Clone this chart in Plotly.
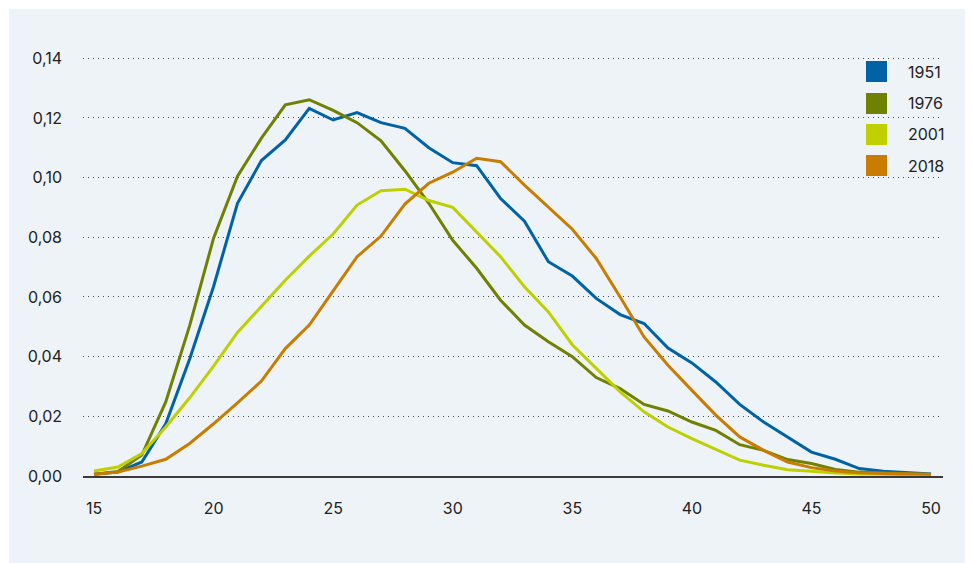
import plotly.graph_objects as go

ages = list(range(15, 51))

series_names = ["1951", "1976", "2001", "2018"]
series_colors = ["#0063a5", "#708000", "#bfd000", "#c87d00"]

y_1951 = [0.0006, 0.0013, 0.0047, 0.0175, 0.0392, 0.0635, 0.0914, 0.1057, 0.1126, 0.1232,
          0.1193, 0.1218, 0.1184, 0.1165, 0.1100, 0.1050, 0.1040, 0.0930, 0.0854, 0.0718,
          0.0670, 0.0595, 0.0541, 0.0511, 0.0429, 0.0379, 0.0315, 0.0240, 0.0181, 0.0131,
          0.0080, 0.0056, 0.0025, 0.0016, 0.0011, 0.0007]
y_1976 = [0.0006, 0.0015, 0.0070, 0.0248, 0.0504, 0.0797, 0.1005, 0.1132, 0.1244, 0.1261,
          0.1225, 0.1184, 0.1123, 0.1023, 0.0914, 0.0790, 0.0696, 0.0589, 0.0506, 0.0450,
          0.0400, 0.0330, 0.0293, 0.0240, 0.0218, 0.0181, 0.0153, 0.0105, 0.0086, 0.0055,
          0.0042, 0.0022, 0.0013, 0.0010, 0.0007, 0.0005]
y_2001 = [0.0017, 0.0030, 0.0075, 0.0164, 0.0262, 0.0368, 0.0481, 0.0570, 0.0656, 0.0737,
          0.0811, 0.0908, 0.0956, 0.0961, 0.0923, 0.0900, 0.0819, 0.0735, 0.0634, 0.0550,
          0.0440, 0.0362, 0.0282, 0.0215, 0.0164, 0.0125, 0.0089, 0.0053, 0.0036, 0.0021,
          0.0016, 0.0010, 0.0007, 0.0005, 0.0004, 0.0003]
y_2018 = [0.0006, 0.0013, 0.0033, 0.0056, 0.0109, 0.0175, 0.0245, 0.0318, 0.0427, 0.0506,
          0.0620, 0.0735, 0.0804, 0.0911, 0.0981, 0.1018, 0.1065, 0.1053, 0.0975, 0.0902,
          0.0827, 0.0729, 0.0600, 0.0466, 0.0371, 0.0287, 0.0204, 0.0131, 0.0086, 0.0047,
          0.0028, 0.0017, 0.0011, 0.0008, 0.0006, 0.0006]

x_ticks = [15, 20, 25, 30, 35, 40, 45, 50]
y_ticks = [0.00, 0.02, 0.04, 0.06, 0.08, 0.10, 0.12, 0.14]
y_tick_labels = ["0,00", "0,02", "0,04", "0,06", "0,08", "0,10", "0,12", "0,14"]

# page has an 8px body margin; figure sized to fit the window
OFF = 8
W, H = 973 - OFF, 563 - OFF
ML, MR, MT, MB = 83 - OFF, 30, 43 - OFF, 87
BG = "#eef3f7"
FONT = "Inter, Noto Sans, sans-serif"
TXT = "#222222"

def px_x(p):
    # p: pixel x in window coordinates
    return (p - OFF - ML) / (W - ML - MR)

def px_y(p):
    return (H - MB - (p - OFF)) / (H - MT - MB)

fig = go.Figure()
for name, col, ys in zip(series_names, series_colors, [y_1951, y_1976, y_2001, y_2018]):
    fig.add_trace(go.Scatter(x=ages, y=ys, mode="lines", name=name,
                             line=dict(color=col, width=3), showlegend=False))

shapes = [
    dict(type="rect", xref="paper", yref="paper", x0=px_x(9), x1=px_x(1000),
         y0=px_y(620), y1=px_y(9), fillcolor=BG, line=dict(width=0), layer="below"),
    dict(type="rect", xref="paper", yref="paper", x0=px_x(820), x1=px_x(1000),
         y0=px_y(205), y1=px_y(40), fillcolor=BG, line=dict(width=0), layer="between"),
]
annotations = []
box_tops = [61, 93, 124, 155]
for name, col, top in zip(series_names, series_colors, box_tops):
    shapes.append(dict(type="rect", xref="paper", yref="paper",
                       x0=px_x(866), x1=px_x(887), y0=px_y(top + 21), y1=px_y(top),
                       fillcolor=col, line=dict(width=0), layer="above"))
    annotations.append(dict(xref="paper", yref="paper", x=px_x(906), y=px_y(top + 10.5),
                            text=name, showarrow=False, xanchor="left", yanchor="middle",
                            font=dict(family=FONT, size=16, color=TXT)))

fig.update_layout(
    width=W, height=H,
    margin=dict(l=ML, r=MR, t=MT, b=MB, pad=0),
    paper_bgcolor="white", plot_bgcolor=BG,
    font=dict(family=FONT, size=16, color=TXT),
    shapes=shapes, annotations=annotations,
    showlegend=False,
)
fig.update_xaxes(range=[14.54, 50.50], tickvals=x_ticks, ticktext=[str(v) for v in x_ticks],
                 showgrid=False, zeroline=False, showline=True, linecolor="#3a3a3a",
                 linewidth=1.5, ticks="", ticklabelstandoff=17,
                 tickfont=dict(family=FONT, size=16, color=TXT))
fig.update_yaxes(range=[0, 0.1451], tickvals=y_ticks, ticktext=y_tick_labels,
                 showgrid=True, gridcolor="#4a4a4a", gridwidth=1, griddash="1px,4px",
                 zeroline=False, showline=False, ticks="", ticklabelstandoff=20,
                 tickfont=dict(family=FONT, size=16, color=TXT))

fig.write_html("out.html")
